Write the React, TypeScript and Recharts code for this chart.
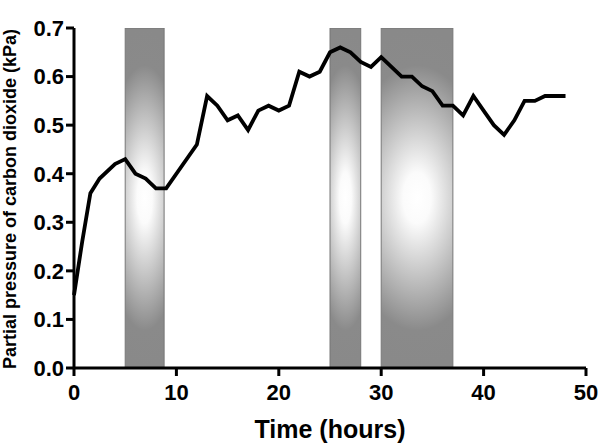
import React from 'react';
import { ComposedChart, Line, XAxis, YAxis, ReferenceArea } from 'recharts';

// hours since start
const hours = [0, 0.8, 1.6, 2.5, 4, 5, 6, 7, 8, 9, 12, 13, 14, 15, 16, 17, 18, 19, 20, 21, 22, 23, 24, 25, 26, 27, 28, 29, 30, 31, 32, 33, 34, 35, 36, 37, 38, 39, 40, 41, 42, 43, 44, 45, 46, 47, 48];
// partial pressure of CO2 (kPa)
const pco2 = [0.15, 0.26, 0.36, 0.39, 0.42, 0.43, 0.40, 0.39, 0.37, 0.37, 0.46, 0.56, 0.54, 0.51, 0.52, 0.49, 0.53, 0.54, 0.53, 0.54, 0.61, 0.60, 0.61, 0.65, 0.66, 0.65, 0.63, 0.62, 0.64, 0.62, 0.60, 0.60, 0.58, 0.57, 0.54, 0.54, 0.52, 0.56, 0.53, 0.50, 0.48, 0.51, 0.55, 0.55, 0.56, 0.56, 0.56];

// shaded periods [start, end] in hours
const periods: [number, number][] = [[5, 8.8], [25, 28], [30, 37]];

const xTicks = [0, 10, 20, 30, 40, 50];
const yTicks = [0, 0.1, 0.2, 0.3, 0.4, 0.5, 0.6, 0.7];

const data = hours.map((h, i) => ({ h, v: pco2[i] }));

const FONT = '"Liberation Sans", Arial, Helvetica, sans-serif';
const tickStyle = { fontSize: 22, fontWeight: 700, fill: '#000', fontFamily: FONT };

export default function App() {
  return (
    <div style={{ position: 'absolute', left: 0, top: 0, width: 600, height: 445, background: '#fff' }}>
      <ComposedChart width={600} height={445} data={data} margin={{ top: 28, right: 14, bottom: 47, left: 0 }}>
        <defs>
          <radialGradient id="band" cx="0.5" cy="0.5" r="0.5" gradientTransform="translate(0.5 0.5) scale(2.6 1) translate(-0.5 -0.5)">
            <stop offset="0" stopColor="#ffffff" />
            <stop offset="0.15" stopColor="#fbfbfb" />
            <stop offset="0.78" stopColor="#8a8a8a" />
            <stop offset="1" stopColor="#898989" />
          </radialGradient>
        </defs>
        <XAxis
          type="number"
          dataKey="h"
          domain={[0, 50]}
          ticks={xTicks}
          interval={0}
          height={30}
          axisLine={{ stroke: '#000', strokeWidth: 3 }}
          tickLine={{ stroke: '#000', strokeWidth: 3 }}
          tickSize={8}
          tickMargin={8}
          tick={tickStyle}
          label={{
            content: (p: any) => (
              <text x={p.viewBox.x + p.viewBox.width / 2} y={438} textAnchor="middle"
                style={{ fontSize: 25, fontWeight: 700, fontFamily: FONT, fill: '#000' }}>
                Time (hours)
              </text>
            ),
          }}
        />
        <YAxis
          type="number"
          domain={[0, 0.7]}
          ticks={yTicks}
          interval={0}
          width={74}
          axisLine={{ stroke: '#000', strokeWidth: 3 }}
          tickLine={{ stroke: '#000', strokeWidth: 3 }}
          tickSize={8}
          tickMargin={2}
          tick={tickStyle}
          tickFormatter={(v: number) => v.toFixed(1)}
          label={{
            content: (p: any) => {
              const cy = p.viewBox.y + p.viewBox.height / 2 + 1;
              return (
                <text x={16} y={cy} transform={`rotate(-90 16 ${cy})`} textAnchor="middle"
                  style={{ fontSize: 18, fontWeight: 700, fontFamily: FONT, fill: '#000' }}>
                  Partial pressure of carbon dioxide (kPa)
                </text>
              );
            },
          }}
        />
        {periods.map(([a, b], i) => (
          <ReferenceArea key={i} x1={a} x2={b} y1={0} y2={0.7} fill="url(#band)" fillOpacity={1} stroke="#777" strokeWidth={1} ifOverflow="hidden" />
        ))}
        <Line type="linear" dataKey="v" stroke="#000" strokeWidth={3.8} dot={false} isAnimationActive={false} />
      </ComposedChart>
    </div>
  );
}
